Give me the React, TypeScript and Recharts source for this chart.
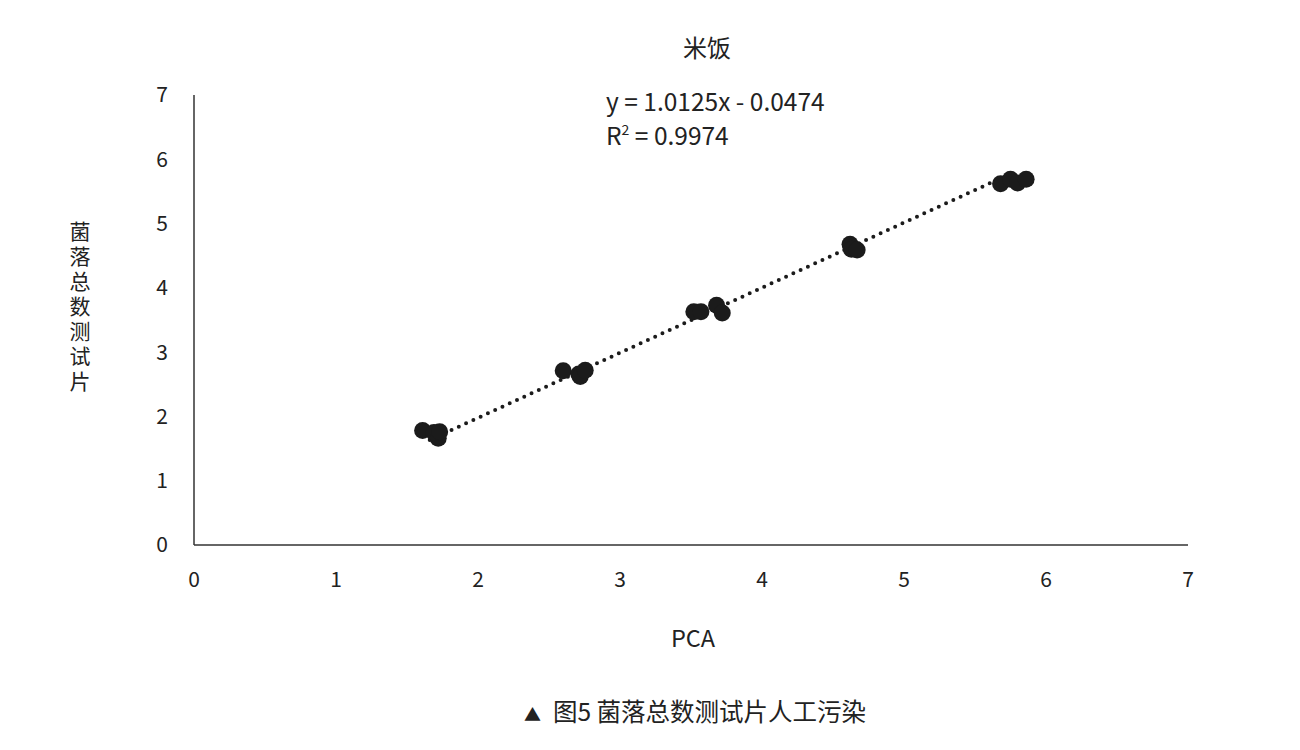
import React from "react";
import { ScatterChart, Scatter, XAxis, YAxis } from "recharts";

const pcaValues = [1.61, 1.69, 1.72, 1.73, 2.6, 2.71, 2.72, 2.755, 3.52, 3.57, 3.68, 3.72, 4.62, 4.63, 4.67, 5.68, 5.75, 5.8, 5.86];
const testValues = [1.78, 1.75, 1.66, 1.76, 2.71, 2.66, 2.62, 2.72, 3.63, 3.63, 3.73, 3.61, 4.68, 4.6, 4.59, 5.62, 5.69, 5.63, 5.69];
const axisTicks = [0, 1, 2, 3, 4, 5, 6, 7];
const slope = 1.0125;
const intercept = -0.0474;
const trendX = [1.66, 5.7];

const points = pcaValues.map((x, i) => ({ x, y: testValues[i] }));
const trend = trendX.map((x) => ({ x, y: slope * x + intercept }));

const FONT = '"Noto Sans CJK SC", "Noto Sans", sans-serif';
const TXT = "#222";

const Dot = (props: any) => <circle cx={props.cx} cy={props.cy} r={8.5} fill="#1b1b1b" />;

export default function App() {
  return (
    <div style={{ position: "relative", width: 1300, height: 750, fontFamily: FONT, color: TXT }}>
      <ScatterChart width={1300} height={750} margin={{ top: 87, right: 120, bottom: 153, left: 126 }}>
        <XAxis
          type="number"
          dataKey="x"
          domain={[0, 7]}
          ticks={axisTicks}
          tickLine={false}
          tickSize={0}
          tickMargin={27}
          height={60}
          axisLine={{ stroke: "#333", strokeWidth: 1.5 }}
          tick={{ fill: TXT, fontSize: 21, fontFamily: FONT }}
          allowDataOverflow
        />
        <YAxis
          type="number"
          dataKey="y"
          domain={[0, 7]}
          ticks={axisTicks}
          tickLine={false}
          tickSize={0}
          tickMargin={26}
          width={60}
          axisLine={{ stroke: "#333", strokeWidth: 1.5 }}
          tick={{ fill: TXT, fontSize: 21, fontFamily: FONT }}
          allowDataOverflow
        />
        <Scatter
          data={trend}
          line={{ stroke: "#1b1b1b", strokeWidth: 4, strokeDasharray: "0 8", strokeLinecap: "round" }}
          shape={() => null}
          isAnimationActive={false}
        />
        <Scatter data={points} shape={Dot} isAnimationActive={false} />
      </ScatterChart>

      <div style={{ position: "absolute", left: 0, width: 1398, top: 23, textAlign: "center", fontSize: 24, lineHeight: "32px" }}>米饭</div>

      <div style={{ position: "absolute", left: 598, top: 76, fontSize: 24.5, lineHeight: "34px", whiteSpace: "nowrap" }}>
        <div>y = 1.0125x - 0.0474</div>
        <div>
          R<sup style={{ fontSize: 14, verticalAlign: "10px", lineHeight: 0 }}>2</sup> = 0.9974
        </div>
      </div>

      <div style={{ position: "absolute", left: 0, width: 1370, top: 613, textAlign: "center", fontSize: 23.5, lineHeight: "32px" }}>PCA</div>

      <div
        style={{
          position: "absolute",
          left: 59,
          top: 213,
          width: 26,
          fontSize: 21,
          lineHeight: "26px",
          writingMode: "vertical-rl",
          letterSpacing: 4,
          whiteSpace: "nowrap",
        }}
      >
        菌落总数测试片
      </div>

      <div style={{ position: "absolute", left: 0, width: 1374, top: 687, textAlign: "center", fontSize: 24.5, lineHeight: "32px", whiteSpace: "nowrap" }}>
        <span style={{ fontSize: 17, marginRight: 12 }}>▲</span>图5 菌落总数测试片人工污染
      </div>
    </div>
  );
}
